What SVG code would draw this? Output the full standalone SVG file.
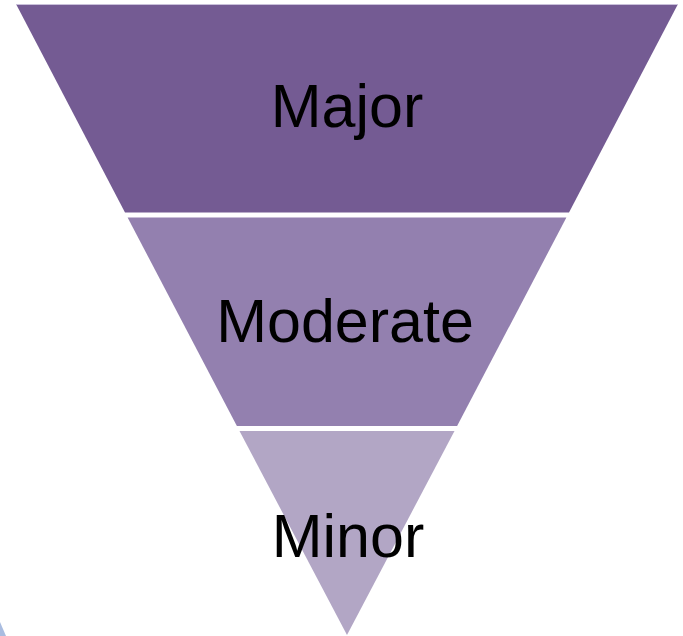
<svg xmlns="http://www.w3.org/2000/svg" width="683" height="636" viewBox="0 0 683 636">
  <style>
    .lbl { font-family: "Liberation Sans", Arial, sans-serif; font-size: 61px; fill: #000000; text-anchor: middle; }
  </style>
  <rect x="0" y="0" width="683" height="636" fill="#ffffff"/>
  <g id="major">
    <polygon points="16,4 678,4 569,212.5 125,212.5" fill="#745B93"/>
    <line x1="16" y1="4.5" x2="678" y2="4.5" stroke="#C9C0DA" stroke-width="1"/>
    <text class="lbl" x="347" y="127">Major</text>
  </g>
  <g id="moderate">
    <polygon points="127.6,217.5 566.4,217.5 457.1,426 236.9,426" fill="#9380AF"/>
    <text class="lbl" x="345" y="342">Moderate</text>
  </g>
  <g id="minor">
    <polygon points="239.5,431 454.5,431 347,635" fill="#B2A6C5"/>
    <text class="lbl" x="348" y="557">Minor</text>
  </g>
  <polygon points="0,622 6,636 0,636" fill="#A9BCE0"/>
</svg>
